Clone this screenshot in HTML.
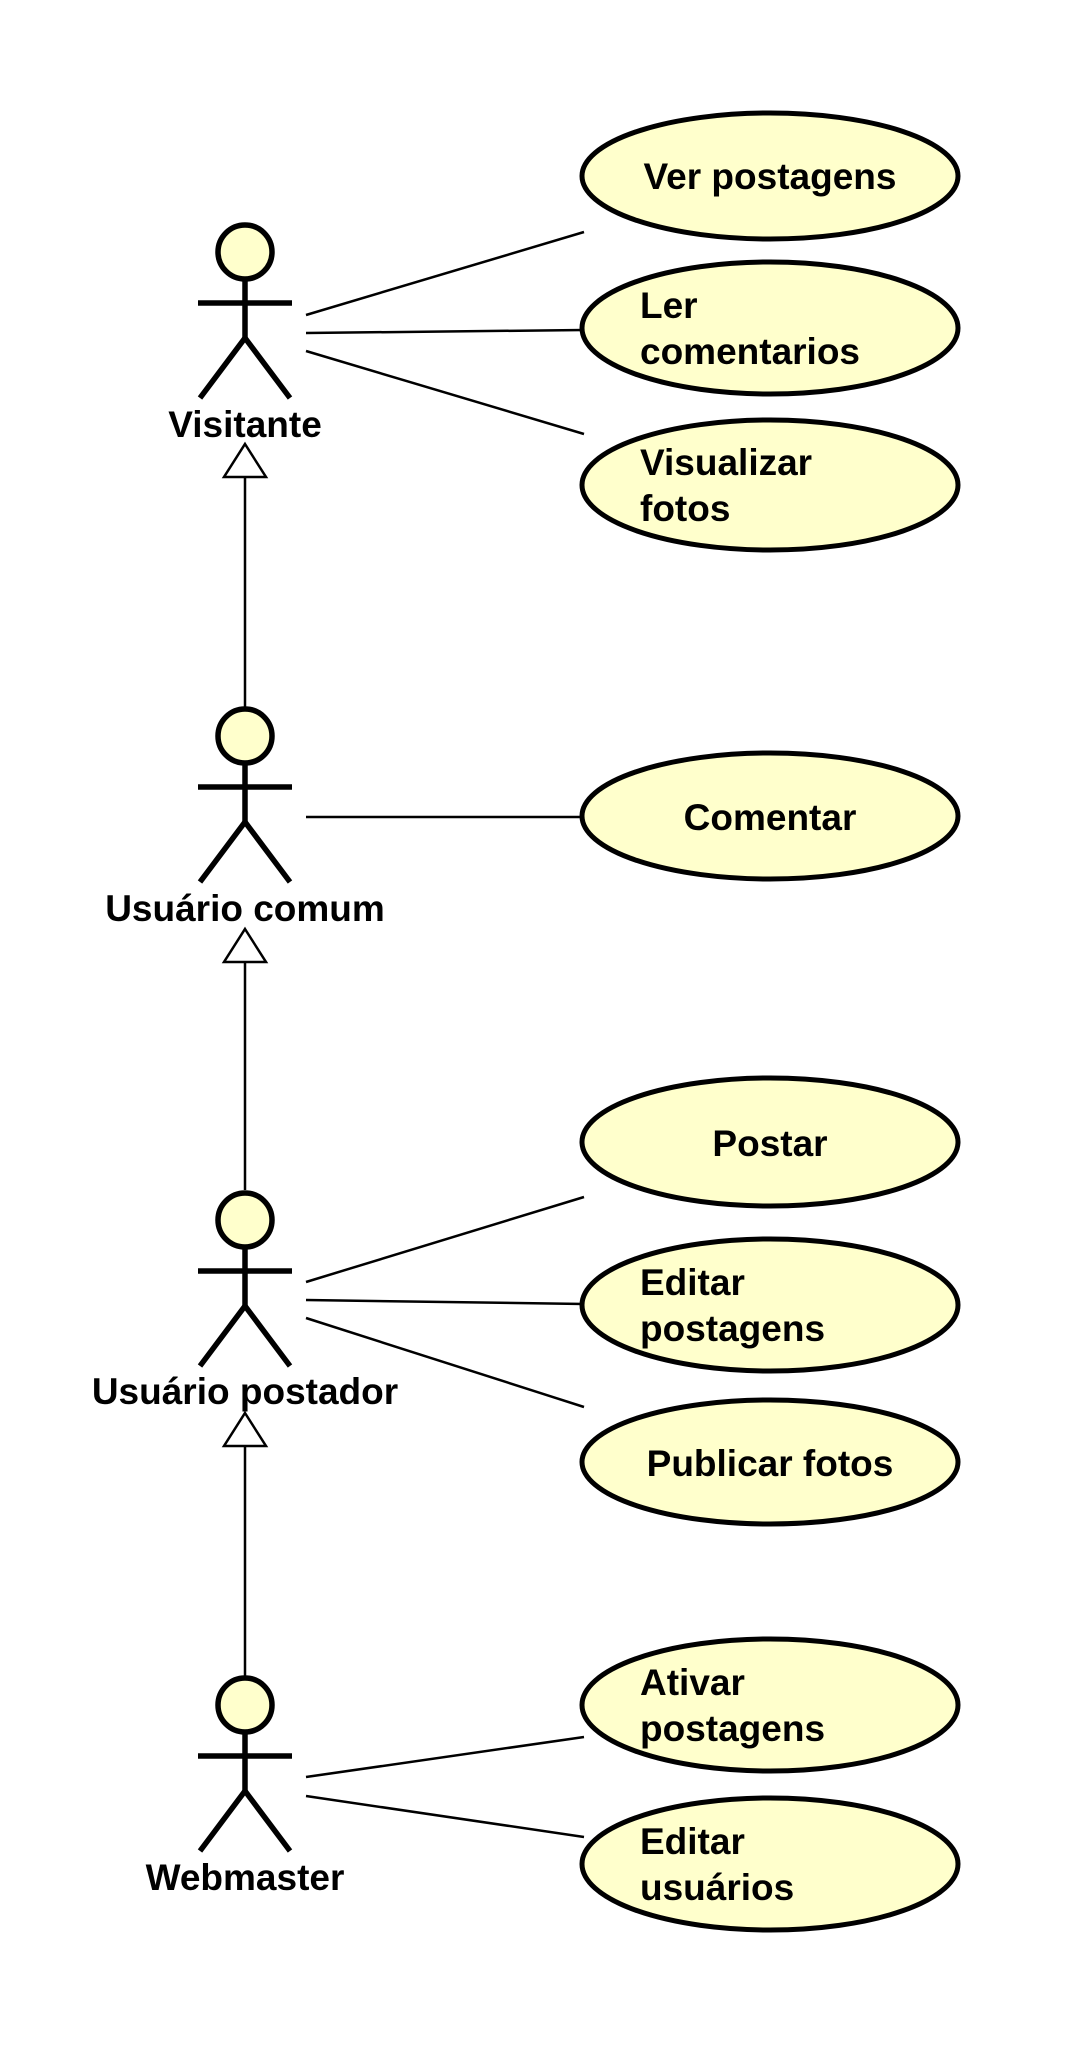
<!DOCTYPE html>
<html><head><meta charset="utf-8"><style>
html,body{margin:0;padding:0;background:#fff;}
svg{display:block;}
text{font-family:"Liberation Sans",Arial,sans-serif;font-weight:bold;font-size:37px;fill:#000;}
</style></head><body>
<svg width="1072" height="2048" viewBox="0 0 1072 2048" xmlns="http://www.w3.org/2000/svg">
<defs>
<g id="actor">
  <circle cx="0" cy="0" r="27" fill="#ffffcc" stroke="#000" stroke-width="5.5"/>
  <line x1="0" y1="27" x2="0" y2="86" stroke="#000" stroke-width="5.5"/>
  <line x1="-47" y1="51" x2="47" y2="51" stroke="#000" stroke-width="5.5"/>
  <polyline points="-45,146 0,86 45,146" fill="none" stroke="#000" stroke-width="5.5"/>
</g>
</defs>
<g stroke="#000" stroke-width="2.5" fill="none">
  <line x1="306" y1="315" x2="584" y2="232"/>
  <line x1="306" y1="333" x2="584" y2="330"/>
  <line x1="306" y1="351" x2="584" y2="434"/>
  <line x1="306" y1="817" x2="584" y2="817"/>
  <line x1="306" y1="1282" x2="584" y2="1197"/>
  <line x1="306" y1="1300" x2="584" y2="1304"/>
  <line x1="306" y1="1318" x2="584" y2="1407"/>
  <line x1="306" y1="1777" x2="584" y2="1737"/>
  <line x1="306" y1="1796" x2="584" y2="1837"/>
  <line x1="245" y1="477" x2="245" y2="707"/>
  <line x1="245" y1="962" x2="245" y2="1190"/>
  <line x1="245" y1="1446" x2="245" y2="1676"/>
</g>
<g stroke="#000" stroke-width="2.5" fill="#fff">
  <polygon points="245,444 266,477 224,477"/>
  <polygon points="245,929 266,962 224,962"/>
  <polygon points="245,1413 266,1446 224,1446"/>
</g>
<use href="#actor" x="245" y="252"/>
<use href="#actor" x="245" y="736"/>
<use href="#actor" x="245" y="1220"/>
<use href="#actor" x="245" y="1705"/>
<text x="245" y="437" text-anchor="middle">Visitante</text>
<text x="245" y="921" text-anchor="middle">Usuário comum</text>
<text x="245" y="1404" text-anchor="middle">Usuário postador</text>
<text x="245" y="1890" text-anchor="middle">Webmaster</text>
<g fill="#ffffcc" stroke="#000" stroke-width="5">
  <ellipse cx="770" cy="176" rx="188" ry="63"/>
  <ellipse cx="770" cy="328" rx="188" ry="66"/>
  <ellipse cx="770" cy="485" rx="188" ry="65"/>
  <ellipse cx="770" cy="816" rx="188" ry="63"/>
  <ellipse cx="770" cy="1142" rx="188" ry="64"/>
  <ellipse cx="770" cy="1305" rx="188" ry="66"/>
  <ellipse cx="770" cy="1462" rx="188" ry="62"/>
  <ellipse cx="770" cy="1705" rx="188" ry="66"/>
  <ellipse cx="770" cy="1864" rx="188" ry="66"/>
</g>
<text x="770" y="189" text-anchor="middle">Ver postagens</text>
<text x="640" y="318">Ler</text>
<text x="640" y="364">comentarios</text>
<text x="640" y="475">Visualizar</text>
<text x="640" y="521">fotos</text>
<text x="770" y="830" text-anchor="middle">Comentar</text>
<text x="770" y="1156" text-anchor="middle">Postar</text>
<text x="640" y="1295">Editar</text>
<text x="640" y="1341">postagens</text>
<text x="770" y="1476" text-anchor="middle">Publicar fotos</text>
<text x="640" y="1695">Ativar</text>
<text x="640" y="1741">postagens</text>
<text x="640" y="1854">Editar</text>
<text x="640" y="1900">usuários</text>
</svg>
</body></html>
